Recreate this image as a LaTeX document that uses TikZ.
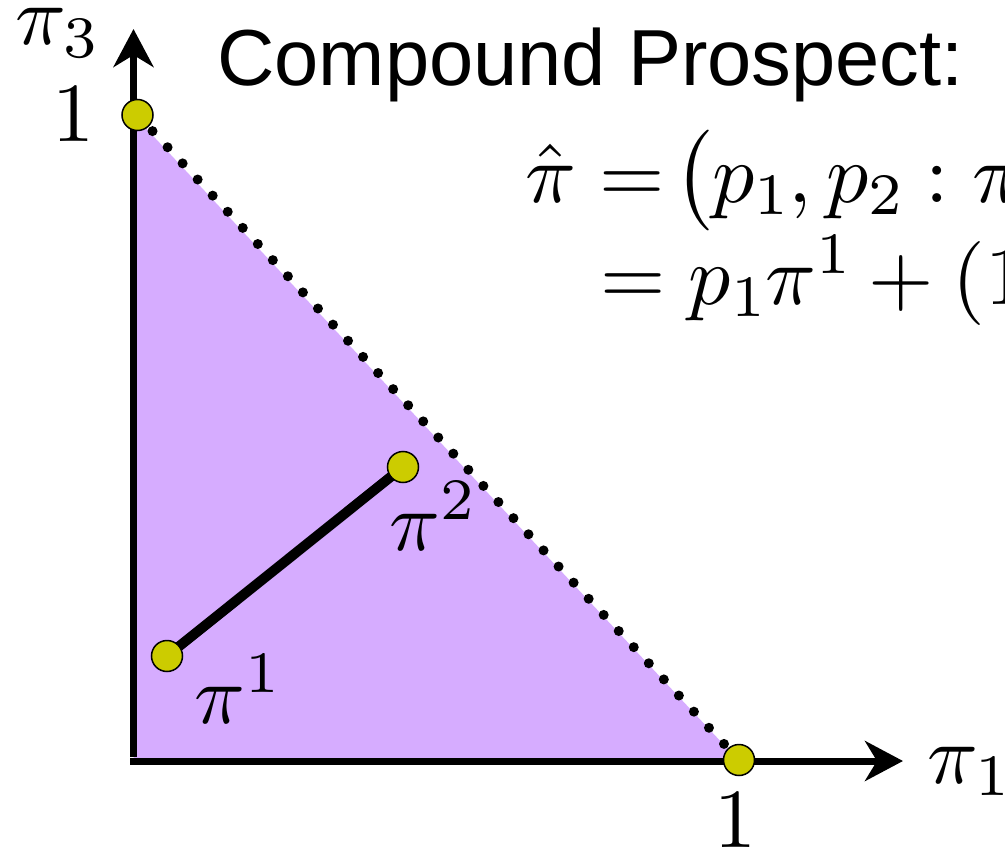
\documentclass[tikz,border=0pt]{standalone}
\usepackage{amsmath}
\usepackage{fontspec}
\DeclareFontShape{OML}{cmm}{m}{it}{<-50>cmmi5 <50-70>cmmi7 <70->cmmi10}{}
\DeclareFontShape{OT1}{cmr}{m}{n}{<-50>cmr5 <50-70>cmr7 <70->cmr10}{}
\DeclareFontShape{OMS}{cmsy}{m}{n}{<-50>cmsy5 <50-70>cmsy7 <70->cmsy10}{}
\DeclareFontShape{OMX}{cmex}{m}{n}{<->cmex10}{}
\newfontfamily\titlefont{Liberation Sans}
\usetikzlibrary{arrows.meta}
\definecolor{simplex}{RGB}{214,172,255}
\definecolor{ptyellow}{RGB}{204,204,0}
\pgfdeclarelayer{bg}
\pgfsetlayers{bg,main}
\tikzset{
  pt/.style={circle,draw=black,line width=1.5pt,fill=ptyellow,minimum size=31pt,inner sep=0pt},
  axis/.style={line width=7pt,-{Stealth[length=38pt,width=40pt,inset=12pt]}},
  lbl/.style={inner sep=0pt,font=\fontsize{84}{100}\selectfont},
  dotline/.style={line width=10pt,line cap=round,dash pattern=on 0pt off 22.05pt},
  seg/.style={line width=10pt}
}
\begin{document}
\begin{tikzpicture}[x=1pt,y=-1pt]
\clip (0,0) rectangle (1005,851);
% points
\node[pt] (v3) at (137.5,115) {};
\node[pt] (v1) at (739,760) {};
\node[pt] (p1) at (167,656) {};
\node[pt] (p2) at (403,467) {};
\coordinate (o) at (133.5,761);
\coordinate (ytop) at (133.5,29);
\coordinate (xend) at (903,761);
\begin{pgfonlayer}{bg}
\fill[white] (0,0) rectangle (1005,851);
\fill[simplex] (133.5,115) -- (133.5,761) -- (739,761) -- cycle;
\draw[dotline] (v3.center) -- (v1.center);
\draw[axis] ([yshift=4pt]o) -- (ytop);
\draw[axis] ([xshift=-3.5pt]o) -- (xend);
\draw[seg] (p1.center) -- (p2.center);
\end{pgfonlayer}
% labels
\node[lbl,anchor=base west] (l3) at (15,45) {$\pi_3$};
\node[lbl,anchor=base] (one3) at (73,142) {$1$};
\node[lbl,anchor=base] (one1) at (735,847) {$1$};
\node[lbl,anchor=base west] (l1) at (927,783) {$\pi_1$};
\node[lbl,anchor=base west] (lp1) at (194,723) {$\pi^1$};
\node[lbl,anchor=base west] (lp2) at (389,550) {$\pi^2$};
\node[inner sep=0pt,anchor=base west,font=\fontsize{79.5}{95}\titlefont] (title) at (217,86) {Compound Prospect:};
\node[lbl,anchor=base west] (f1) at (525,202) {$\hat{\pi}=\mkern-3mu\big(p_1,p_2:\pi^1,\pi^2\big)$};
\node[lbl,anchor=base west] (f2) at (600,304) {$=p_1\pi^1+(1-p_1)\pi^2$};
\end{tikzpicture}
\end{document}
